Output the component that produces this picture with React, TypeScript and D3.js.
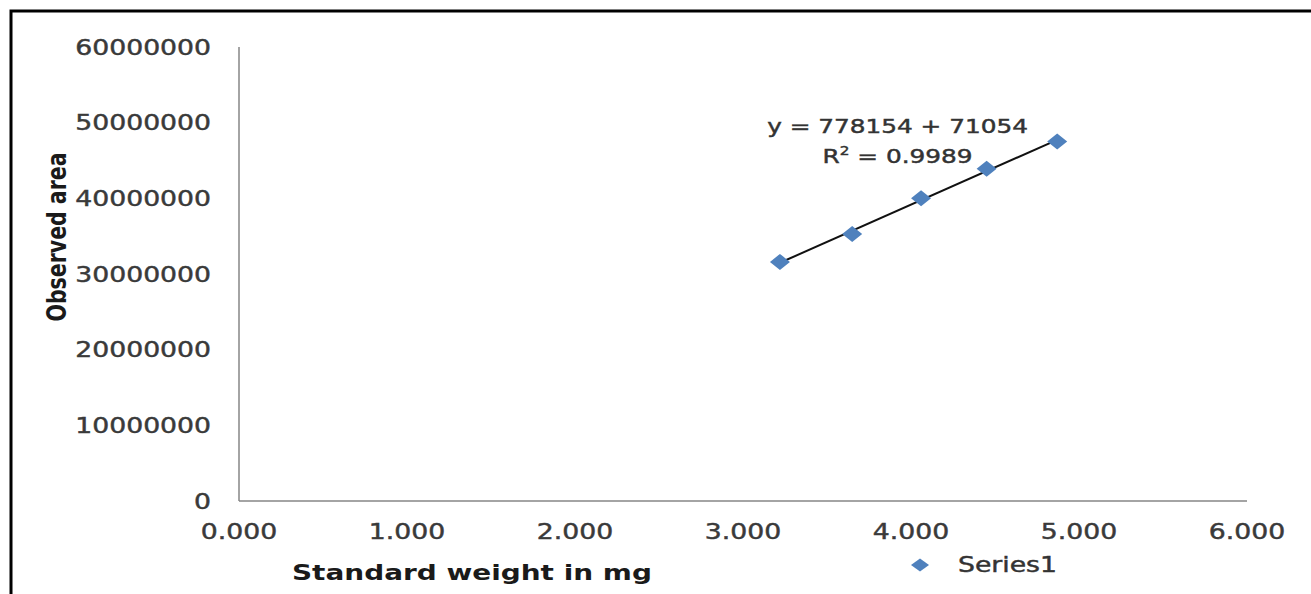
import React, { useRef, useEffect } from 'react';
import * as d3 from 'd3';

// data
const weights = [3.22, 3.65, 4.06, 4.45, 4.87];
const areas = [31600000, 35300000, 40000000, 43900000, 47500000];
const xTicks = [0, 1, 2, 3, 4, 5, 6];
const yTicks = [0, 10000000, 20000000, 30000000, 40000000, 50000000, 60000000];
const equationText = 'y = 778154 + 71054';
const r2Value = '0.9989';
const seriesName = 'Series1';
const xTitle = 'Standard weight in mg';
const yTitle = 'Observed area';

const W = 1311;
const H = 594;
// the original picture is stretched sideways, so the text is too
const SX = 1.27;
const FONT = '"DejaVu Sans", Verdana, sans-serif';

// diamond marker, a little wider than tall like in the picture
const diamond = (cx: number, cy: number, rx: number, ry: number) =>
  `M${cx},${cy - ry}L${cx + rx},${cy}L${cx},${cy + ry}L${cx - rx},${cy}Z`;

const App = () => {
  const ref = useRef<SVGSVGElement>(null);

  useEffect(() => {
    const svg = d3.select(ref.current);
    svg.selectAll('*').remove();

    svg.append('rect').attr('width', W).attr('height', H).attr('fill', '#fff');

    // black frame: only the top and left edges are inside the picture
    svg.append('path')
      .attr('d', `M11,${H + 5}V11H${W + 5}`)
      .attr('fill', 'none')
      .attr('stroke', '#000')
      .attr('stroke-width', 3);

    const x = d3.scaleLinear().domain([0, 6]).range([239, 1247]);
    const y = d3.scaleLinear().domain([0, 60000000]).range([501, 47]);

    // axis lines (no tick marks in the original)
    const axisColor = '#868686';
    svg.append('line')
      .attr('x1', x(0)).attr('x2', x(0))
      .attr('y1', y(60000000)).attr('y2', y(0))
      .attr('stroke', axisColor).attr('stroke-width', 1.5);
    svg.append('line')
      .attr('x1', x(0)).attr('x2', x(6))
      .attr('y1', y(0)).attr('y2', y(0))
      .attr('stroke', axisColor).attr('stroke-width', 1.5);

    // the scanned text looks a bit heavier than a plain regular weight
    const heavy = (sel: any, color: string) =>
      sel.style('fill', color).style('stroke', color).style('stroke-width', 0.45);

    // y tick labels
    svg.append('g').selectAll('text')
      .data(yTicks)
      .enter()
      .append('text')
      .attr('transform', d => `translate(211, ${y(d)}) scale(${SX},1)`)
      .attr('dy', '0.36em')
      .attr('text-anchor', 'end')
      .style('font-family', FONT)
      .style('font-size', '21px')
      .call(heavy, '#3a3a3a')
      .text(d => String(d));

    // x tick labels
    svg.append('g').selectAll('text')
      .data(xTicks)
      .enter()
      .append('text')
      .attr('transform', d => `translate(${x(d)}, 539) scale(${SX},1)`)
      .attr('text-anchor', 'middle')
      .style('font-family', FONT)
      .style('font-size', '21px')
      .call(heavy, '#3a3a3a')
      .text(d => d.toFixed(3));

    // axis titles
    svg.append('text')
      .attr('transform', `translate(292, 580) scale(${SX},1)`)
      .style('font-family', FONT)
      .style('font-size', '22px')
      .style('font-weight', 'bold')
      .style('fill', '#1a1a1a')
      .text(xTitle);

    svg.append('text')
      .attr('transform', `translate(66, 237) scale(${SX},1) rotate(-90)`)
      .attr('text-anchor', 'middle')
      .style('font-family', FONT)
      .style('font-size', '20.5px')
      .style('font-weight', 'bold')
      .style('fill', '#1a1a1a')
      .text(yTitle);

    // least squares trend line between the first and last point
    const pts = weights.map((w, i) => ({ w, a: areas[i] }));
    const mx = d3.mean(weights) as number;
    const my = d3.mean(areas) as number;
    const slope = d3.sum(pts, p => (p.w - mx) * (p.a - my)) / d3.sum(pts, p => (p.w - mx) ** 2);
    const icpt = my - slope * mx;
    const [x0, x1] = d3.extent(weights) as [number, number];
    svg.append('line')
      .attr('x1', x(x0)).attr('y1', y(icpt + slope * x0))
      .attr('x2', x(x1)).attr('y2', y(icpt + slope * x1))
      .attr('stroke', '#111')
      .attr('stroke-width', 2);

    // markers
    svg.append('g').selectAll('path')
      .data(pts)
      .enter()
      .append('path')
      .attr('d', p => diamond(x(p.w), y(p.a), 10, 8))
      .attr('fill', '#4F81BD');

    // equation and R²
    const eqX = x(3.92);
    svg.append('text')
      .attr('transform', `translate(${eqX}, 133) scale(${SX},1)`)
      .attr('text-anchor', 'middle')
      .style('font-family', FONT)
      .style('font-size', '19.5px')
      .call(heavy, '#333')
      .text(equationText);

    const r2 = svg.append('text')
      .attr('transform', `translate(${eqX}, 163) scale(${SX},1)`)
      .attr('text-anchor', 'middle')
      .style('font-family', FONT)
      .style('font-size', '19.5px')
      .call(heavy, '#333');
    r2.append('tspan').text('R');
    r2.append('tspan').attr('dy', -8).style('font-size', '12px').text('2');
    r2.append('tspan').attr('dy', 8).text(` = ${r2Value}`);

    // legend
    svg.append('path')
      .attr('d', diamond(920, 565, 9, 6.5))
      .attr('fill', '#4F81BD');
    svg.append('text')
      .attr('transform', `translate(958, 572) scale(${SX},1)`)
      .style('font-family', FONT)
      .style('font-size', '21px')
      .call(heavy, '#333')
      .text(seriesName);
  }, []);

  return (
    <svg
      ref={ref}
      width={W}
      height={H}
      style={{ position: 'absolute', left: 0, top: 0, display: 'block' }}
    />
  );
};

export default App;
